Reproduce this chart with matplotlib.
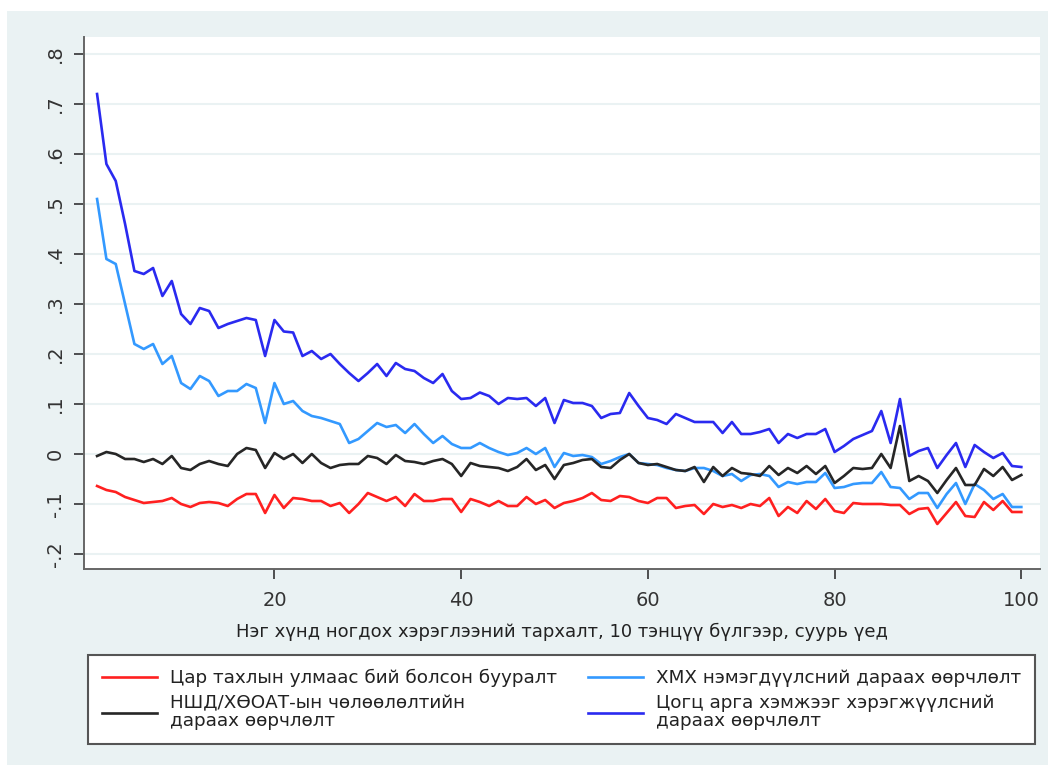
import matplotlib
matplotlib.use('Agg')
import matplotlib.pyplot as plt
from matplotlib.patches import Rectangle
import numpy as np

plt.rcParams['font.family'] = ['DejaVu Sans']

# decile groups 1..100
groups = np.arange(1, 101)

red_vals = [
    -0.064, -0.072, -0.076, -0.086, -0.092, -0.098, -0.096, -0.094, -0.088, -0.100,
    -0.106, -0.098, -0.096, -0.098, -0.104, -0.090, -0.080, -0.080, -0.118, -0.082,
    -0.108, -0.088, -0.090, -0.094, -0.094, -0.104, -0.098, -0.118, -0.100, -0.078,
    -0.086, -0.094, -0.086, -0.104, -0.080, -0.094, -0.094, -0.090, -0.090, -0.116,
    -0.090, -0.096, -0.104, -0.094, -0.104, -0.104, -0.086, -0.100, -0.092, -0.108,
    -0.098, -0.094, -0.088, -0.078, -0.092, -0.094, -0.084, -0.086, -0.094, -0.098,
    -0.088, -0.088, -0.108, -0.104, -0.102, -0.120, -0.100, -0.106, -0.102, -0.108,
    -0.100, -0.104, -0.088, -0.124, -0.106, -0.118, -0.094, -0.110, -0.090, -0.114,
    -0.118, -0.098, -0.100, -0.100, -0.100, -0.102, -0.102, -0.120, -0.110, -0.108,
    -0.140, -0.118, -0.096, -0.124, -0.126, -0.096, -0.112, -0.094, -0.116, -0.116,
]

lightblue_vals = [
    0.510, 0.390, 0.380, 0.300, 0.220, 0.210, 0.220, 0.180, 0.196, 0.142,
    0.130, 0.156, 0.146, 0.116, 0.126, 0.126, 0.140, 0.132, 0.062, 0.142,
    0.100, 0.106, 0.086, 0.076, 0.072, 0.066, 0.060, 0.022, 0.030, 0.046,
    0.062, 0.054, 0.058, 0.042, 0.060, 0.040, 0.022, 0.036, 0.020, 0.012,
    0.012, 0.022, 0.012, 0.004, -0.002, 0.002, 0.012, 0.000, 0.012, -0.026,
    0.002, -0.004, -0.002, -0.006, -0.020, -0.014, -0.006, 0.000, -0.018, -0.020,
    -0.022, -0.028, -0.032, -0.034, -0.028, -0.028, -0.034, -0.044, -0.040, -0.054,
    -0.042, -0.040, -0.044, -0.066, -0.056, -0.060, -0.056, -0.056, -0.038, -0.068,
    -0.066, -0.060, -0.058, -0.058, -0.036, -0.066, -0.068, -0.090, -0.078, -0.078,
    -0.108, -0.080, -0.058, -0.100, -0.060, -0.072, -0.090, -0.080, -0.106, -0.106,
]

black_vals = [
    -0.004, 0.004, 0.000, -0.010, -0.010, -0.016, -0.010, -0.020, -0.004, -0.028,
    -0.032, -0.020, -0.014, -0.020, -0.024, 0.000, 0.012, 0.008, -0.028, 0.002,
    -0.010, 0.000, -0.018, 0.000, -0.018, -0.028, -0.022, -0.020, -0.020, -0.004,
    -0.008, -0.020, -0.002, -0.014, -0.016, -0.020, -0.014, -0.010, -0.020, -0.044,
    -0.018, -0.024, -0.026, -0.028, -0.034, -0.026, -0.010, -0.032, -0.022, -0.050,
    -0.022, -0.018, -0.012, -0.010, -0.026, -0.028, -0.012, 0.000, -0.018, -0.022,
    -0.020, -0.026, -0.032, -0.034, -0.026, -0.056, -0.026, -0.044, -0.028, -0.038,
    -0.040, -0.044, -0.024, -0.042, -0.028, -0.038, -0.024, -0.040, -0.024, -0.058,
    -0.044, -0.028, -0.030, -0.028, 0.000, -0.028, 0.056, -0.054, -0.044, -0.054,
    -0.078, -0.052, -0.028, -0.062, -0.062, -0.030, -0.044, -0.026, -0.052, -0.042,
]

blue_vals = [
    0.720, 0.580, 0.546, 0.460, 0.366, 0.360, 0.372, 0.316, 0.346, 0.280,
    0.260, 0.292, 0.286, 0.252, 0.260, 0.266, 0.272, 0.268, 0.196, 0.268,
    0.245, 0.243, 0.196, 0.206, 0.190, 0.200, 0.180, 0.162, 0.146, 0.162,
    0.180, 0.156, 0.182, 0.170, 0.166, 0.152, 0.142, 0.160, 0.126, 0.110,
    0.112, 0.123, 0.116, 0.100, 0.112, 0.110, 0.112, 0.096, 0.112, 0.062,
    0.108, 0.102, 0.102, 0.096, 0.072, 0.080, 0.082, 0.122, 0.096, 0.072,
    0.068, 0.060, 0.080, 0.072, 0.064, 0.064, 0.064, 0.042, 0.064, 0.040,
    0.040, 0.044, 0.050, 0.022, 0.040, 0.032, 0.040, 0.040, 0.050, 0.004,
    0.016, 0.030, 0.038, 0.046, 0.086, 0.022, 0.110, -0.004, 0.006, 0.012,
    -0.028, -0.002, 0.022, -0.026, 0.018, 0.004, -0.008, 0.002, -0.024, -0.026,
]

labels = [
    'Цар тахлын улмаас бий болсон бууралт',
    'ХМХ нэмэгдүүлсний дараах өөрчлөлт',
    'НШД/ХӨОАТ-ын чөлөөлөлтийн\nдараах өөрчлөлт',
    'Цогц арга хэмжээг хэрэгжүүлсний\nдараах өөрчлөлт',
]
colors = ['#ff2020', '#3399ff', '#262626', '#2a2af0']

yticks = [-0.2, -0.1, 0, 0.1, 0.2, 0.3, 0.4, 0.5, 0.6, 0.7, 0.8]
ytick_labels = ['-.2', '-.1', '0', '.1', '.2', '.3', '.4', '.5', '.6', '.7', '.8']
xticks = [20, 40, 60, 80, 100]

bg = '#eaf2f3'
fig = plt.figure(figsize=(10.5, 7.71), dpi=100, facecolor='white')
fig.patches.append(Rectangle((7 / 1050, 6 / 771), 1041 / 1050, 754 / 771,
                             transform=fig.transFigure, facecolor=bg,
                             edgecolor='none', zorder=-10))

ax = fig.add_axes([84 / 1050, 1 - 569 / 771, 956 / 1050, 532 / 771])
ax.set_facecolor('white')

series = [red_vals, lightblue_vals, black_vals, blue_vals]
lines = []
for vals, c, lab in zip(series, colors, labels):
    ln, = ax.plot(groups, vals, color=c, lw=1.9, label=lab)
    lines.append(ln)

ax.set_xlim(-0.4, 102.0)
ax.set_ylim(-0.23, 0.834)
ax.set_yticks(yticks)
ax.set_yticklabels(ytick_labels, rotation=90, va='center')
ax.set_xticks(xticks)
ax.tick_params(axis='both', labelsize=14, colors='#333333', length=7,
               width=1.2, direction='out')
ax.tick_params(axis='y', pad=7)
ax.tick_params(axis='x', pad=9)
ax.yaxis.grid(True, color=bg, lw=1.5)
ax.set_axisbelow(True)
for side in ['top', 'right']:
    ax.spines[side].set_visible(False)
for side in ['left', 'bottom']:
    ax.spines[side].set_color('#666666')
    ax.spines[side].set_linewidth(1.4)

ax.set_xlabel('Нэг хүнд ногдох хэрэглээний тархалт, 10 тэнцүү бүлгээр, суурь үед',
              fontsize=13.0, color='#222222', labelpad=9)

# legend: column-major order in matplotlib
order = [0, 2, 1, 3]
leg = fig.legend([lines[i] for i in order], [labels[i] for i in order],
                 ncol=2, loc='upper left', mode='expand', borderaxespad=0,
                 bbox_to_anchor=(88 / 1050, 1 - 745 / 771, 947 / 1050, 90 / 771),
                 fontsize=13.2, frameon=True, fancybox=False, framealpha=1,
                 handlelength=3.0, handletextpad=0.7, labelspacing=0.4,
                 borderpad=0.75, columnspacing=1.0)
leg.get_frame().set_edgecolor('#555555')
leg.get_frame().set_linewidth(1.5)
leg.get_frame().set_facecolor('white')
for t in leg.get_texts():
    t.set_color('#222222')
    t.set_linespacing(1.0)

fig.savefig('out.png', dpi=100, facecolor='white')
